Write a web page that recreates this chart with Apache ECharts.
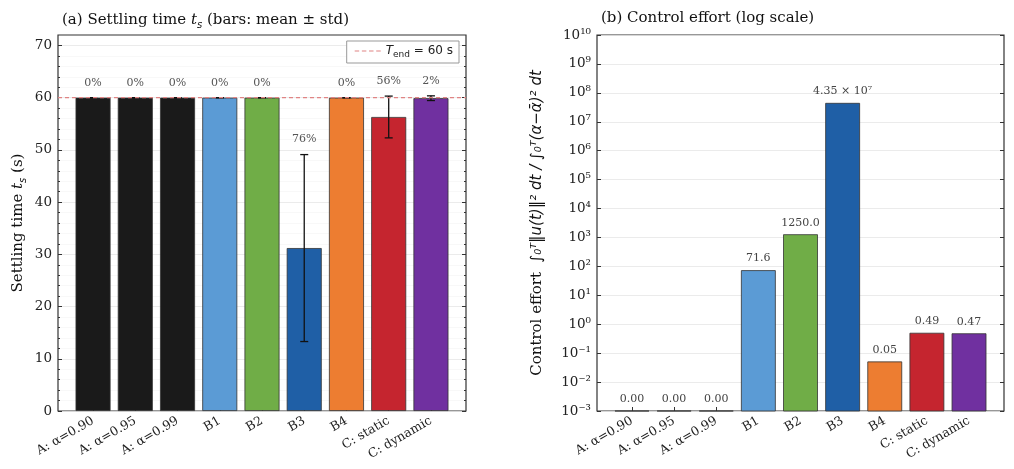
<!DOCTYPE html>
<html>
<head>
<meta charset="utf-8">
<script src="https://cdn.jsdelivr.net/npm/echarts@6/dist/echarts.min.js"></script>
<style>
  html, body { margin: 0; background: #fff; }
  #chart { width: 1014px; height: 469px; }
</style>
</head>
<body>
<div id="chart"></div>
<script>
// data
const categories = ['A: α=0.90', 'A: α=0.95', 'A: α=0.99', 'B1', 'B2', 'B3', 'B4', 'C: static', 'C: dynamic'];
const settleMean = [60, 60, 60, 60, 60, 31.2, 60, 56.3, 59.9];
const settleStd = [0, 0, 0, 0, 0, 17.9, 0, 4.0, 0.45];
const missPct = [0, 0, 0, 0, 0, 76, 0, 56, 2];
const tEnd = 60;
const effort = [0, 0, 0, 71.6, 1250.0, 4.35e7, 0.05, 0.49, 0.47];
const settleTicks = [0, 10, 20, 30, 40, 50, 60, 70];
const effortExp = [-3, -2, -1, 0, 1, 2, 3, 4, 5, 6, 7, 8, 9, 10];

// styles
const barColors = ['#1a1a1a', '#1a1a1a', '#1a1a1a', '#5b9bd5', '#70ad47', '#1f5fa6', '#ed7d31', '#c5252f', '#7030a0'];
const SERIF = '"DejaVu Serif", serif';
const SANS = '"DejaVu Sans", sans-serif';
const idx = categories.map((c, i) => i);
const effortFloor = Math.pow(10, effortExp[0]);
const effortCeil = Math.pow(10, effortExp[effortExp.length - 1]);

const supMap = { '-': '⁻', '0': '⁰', '1': '¹', '2': '²', '3': '³', '4': '⁴', '5': '⁵', '6': '⁶', '7': '⁷', '8': '⁸', '9': '⁹' };
function sup(n) {
  return String(n).split('').map(ch => supMap[ch]).join('');
}
function effortText(v) {
  if (v >= 1e4) {
    const e = Math.floor(Math.log10(v));
    return (v / Math.pow(10, e)).toFixed(2) + ' × 10' + sup(e);
  }
  if (v >= 1) return v.toFixed(1);
  return v.toFixed(2);
}

const chart = echarts.init(document.getElementById('chart'));

const frame = { show: true, borderColor: '#333', borderWidth: 1.2, backgroundColor: '#fff' };
const noLine = { show: false, onZero: false };
const catAxis = (gi) => ({
  type: 'value', gridIndex: gi, min: -0.83, max: 8.83,
  axisLine: noLine,
  splitLine: { show: false },
  axisTick: { show: true, inside: true, length: 4, customValues: idx, lineStyle: { color: '#333' } },
  axisLabel: {
    customValues: idx, rotate: 30, margin: 9,
    fontFamily: SERIF, fontSize: 12.5, color: '#222',
    formatter: v => categories[Math.round(v)]
  }
});
const subRich = {
  i: { fontFamily: SERIF, fontStyle: 'italic', fontSize: 15, lineHeight: 20 },
  s: { fontFamily: SANS, fontStyle: 'italic', fontSize: 10, lineHeight: 11, verticalAlign: 'bottom' }
};

const option = {
  backgroundColor: '#fff',
  animation: false,
  title: [
    { text: '(a) Settling time {i|t}{s|s} (bars: mean ± std)', left: 57, top: 5,
      textStyle: { fontFamily: SERIF, fontSize: 15, fontWeight: 'normal', color: '#111', rich: subRich } },
    { text: '(b) Control effort (log scale)', left: 596, top: 6,
      textStyle: { fontFamily: SERIF, fontSize: 15, fontWeight: 'normal', color: '#111' } }
  ],
  legend: {
    data: [{ name: 'Tend', icon: 'path://M0,0h5v1h-5zM8,0h5v1h-5zM16,0h5v1h-5zM24,0h5v1h-5z' }],
    right: 555, top: 41,
    backgroundColor: '#fff',
    borderColor: '#999', borderWidth: 1, borderRadius: 0,
    padding: [4, 6, 4, 8],
    itemWidth: 26, itemHeight: 1.5, itemGap: 6,
    formatter: () => '{i|T}{s|end} = 60 s',
    textStyle: { fontFamily: SANS, fontSize: 12, color: '#222',
      rich: { i: { fontFamily: SANS, fontStyle: 'italic', fontSize: 12, lineHeight: 16 },
              s: { fontFamily: SANS, fontSize: 9, lineHeight: 9, verticalAlign: 'bottom' } } }
  },
  grid: [
    Object.assign({ left: 58, top: 35, width: 408, height: 376 }, frame),
    Object.assign({ left: 597, top: 35, width: 407, height: 376 }, frame)
  ],
  xAxis: [catAxis(0), catAxis(1)],
  yAxis: [
    {
      type: 'value', gridIndex: 0, min: 0, max: 72,
      name: 'Settling time {i|t}{s|s} (s)', nameLocation: 'middle', nameGap: 30, nameRotate: 90,
      nameTextStyle: { fontFamily: SERIF, fontSize: 15, color: '#111', rich: subRich },
      axisLine: noLine,
      axisTick: { inside: true, length: 4, customValues: settleTicks, lineStyle: { color: '#333' } },
      minorTick: { show: true, splitNumber: 5, length: 2, lineStyle: { color: '#333' } },
      axisLabel: { customValues: settleTicks, fontFamily: SERIF, fontSize: 13.5, color: '#222', margin: 6 },
      splitLine: { show: true, lineStyle: { color: '#e6e6e6', width: 0.8 } },
      minorSplitLine: { show: true, lineStyle: { color: '#f3f3f3', width: 0.6 } }
    },
    {
      type: 'value', gridIndex: 0, min: 0, max: 72, position: 'right',
      axisLine: noLine,
      axisTick: { inside: true, length: 4, customValues: settleTicks, lineStyle: { color: '#333' } },
      minorTick: { show: true, splitNumber: 5, length: 2, lineStyle: { color: '#333' } },
      axisLabel: { show: false }, splitLine: { show: false }
    },
    {
      type: 'log', logBase: 10, gridIndex: 1, min: effortFloor, max: effortCeil, interval: 1,
      name: '{r|Control effort  }{m|∫₀ᵀ‖u(t)‖² dt / ∫₀ᵀ(α−ᾱ)² dt}', nameLocation: 'middle', nameGap: 52, nameRotate: 90,
      nameTextStyle: { fontFamily: SERIF, fontSize: 15, color: '#111',
        rich: { r: { fontFamily: SERIF, fontSize: 15 }, m: { fontFamily: SANS, fontStyle: 'italic', fontSize: 15 } } },
      axisLine: noLine,
      axisTick: { inside: true, length: 4, lineStyle: { color: '#333' } },
      axisLabel: { fontFamily: SERIF, fontSize: 13.5, color: '#222', margin: 6,
        formatter: v => '10' + sup(Math.round(Math.log10(v))) },
      splitLine: { show: true, lineStyle: { color: '#e6e6e6', width: 0.8 } }
    },
    {
      type: 'log', logBase: 10, gridIndex: 1, min: effortFloor, max: effortCeil, interval: 1, position: 'right',
      axisLine: noLine,
      axisTick: { inside: true, length: 4, lineStyle: { color: '#333' } },
      axisLabel: { show: false }, splitLine: { show: false }
    }
  ],
  series: [
    {
      type: 'bar', xAxisIndex: 0, yAxisIndex: 0, barWidth: 35,
      data: settleMean.map((v, i) => ({ value: [i, v], itemStyle: { color: barColors[i] } })),
      itemStyle: { borderColor: '#333', borderWidth: 0.8 }
    },
    {
      type: 'custom', xAxisIndex: 0, yAxisIndex: 0, z: 5,
      data: settleMean.map((m, i) => [i, m, settleStd[i], missPct[i]]),
      renderItem: (params, api) => {
        const x = api.value(0), m = api.value(1), s = api.value(2);
        const top = api.coord([x, m + s]);
        const bot = api.coord([x, m - s]);
        const cap = 4;
        const ls = { stroke: '#111', lineWidth: 1.3 };
        return {
          type: 'group',
          children: [
            { type: 'line', shape: { x1: top[0], y1: top[1], x2: bot[0], y2: bot[1] }, style: ls },
            { type: 'line', shape: { x1: top[0] - cap, y1: top[1], x2: top[0] + cap, y2: top[1] }, style: ls },
            { type: 'line', shape: { x1: bot[0] - cap, y1: bot[1], x2: bot[0] + cap, y2: bot[1] }, style: ls },
            { type: 'text', x: top[0], y: top[1] - 15,
              style: { text: api.value(3) + '%', align: 'center', verticalAlign: 'middle',
                       fontFamily: SERIF, fontSize: 11, fill: '#555' } }
          ]
        };
      }
    },
    {
      name: 'Tend', type: 'line', xAxisIndex: 0, yAxisIndex: 0, z: 6,
      symbol: 'none', silent: true,
      data: [[-0.83, tEnd], [8.83, tEnd]],
      lineStyle: { color: '#e08484', width: 1.2, type: [4, 3] },
      itemStyle: { color: '#e08484' }
    },
    {
      type: 'custom', xAxisIndex: 1, yAxisIndex: 2,
      data: effort.map((v, i) => [i, v]),
      renderItem: (params, api) => {
        const i = api.value(0), v = api.value(1);
        const base = api.coord([i, effortFloor]);
        const top = api.coord([i, Math.max(v, effortFloor)]);
        const w = 34;
        return {
          type: 'group',
          children: [
            { type: 'rect', shape: { x: top[0] - w / 2, y: top[1], width: w, height: base[1] - top[1] },
              style: { fill: barColors[i], stroke: '#333', lineWidth: 0.8 } },
            { type: 'text', x: top[0], y: top[1] - 12,
              style: { text: effortText(v), align: 'center', verticalAlign: 'middle',
                       fontFamily: SERIF, fontSize: 11, fill: '#444' } }
          ]
        };
      }
    }
  ]
};

chart.setOption(option);
</script>
</body>
</html>
